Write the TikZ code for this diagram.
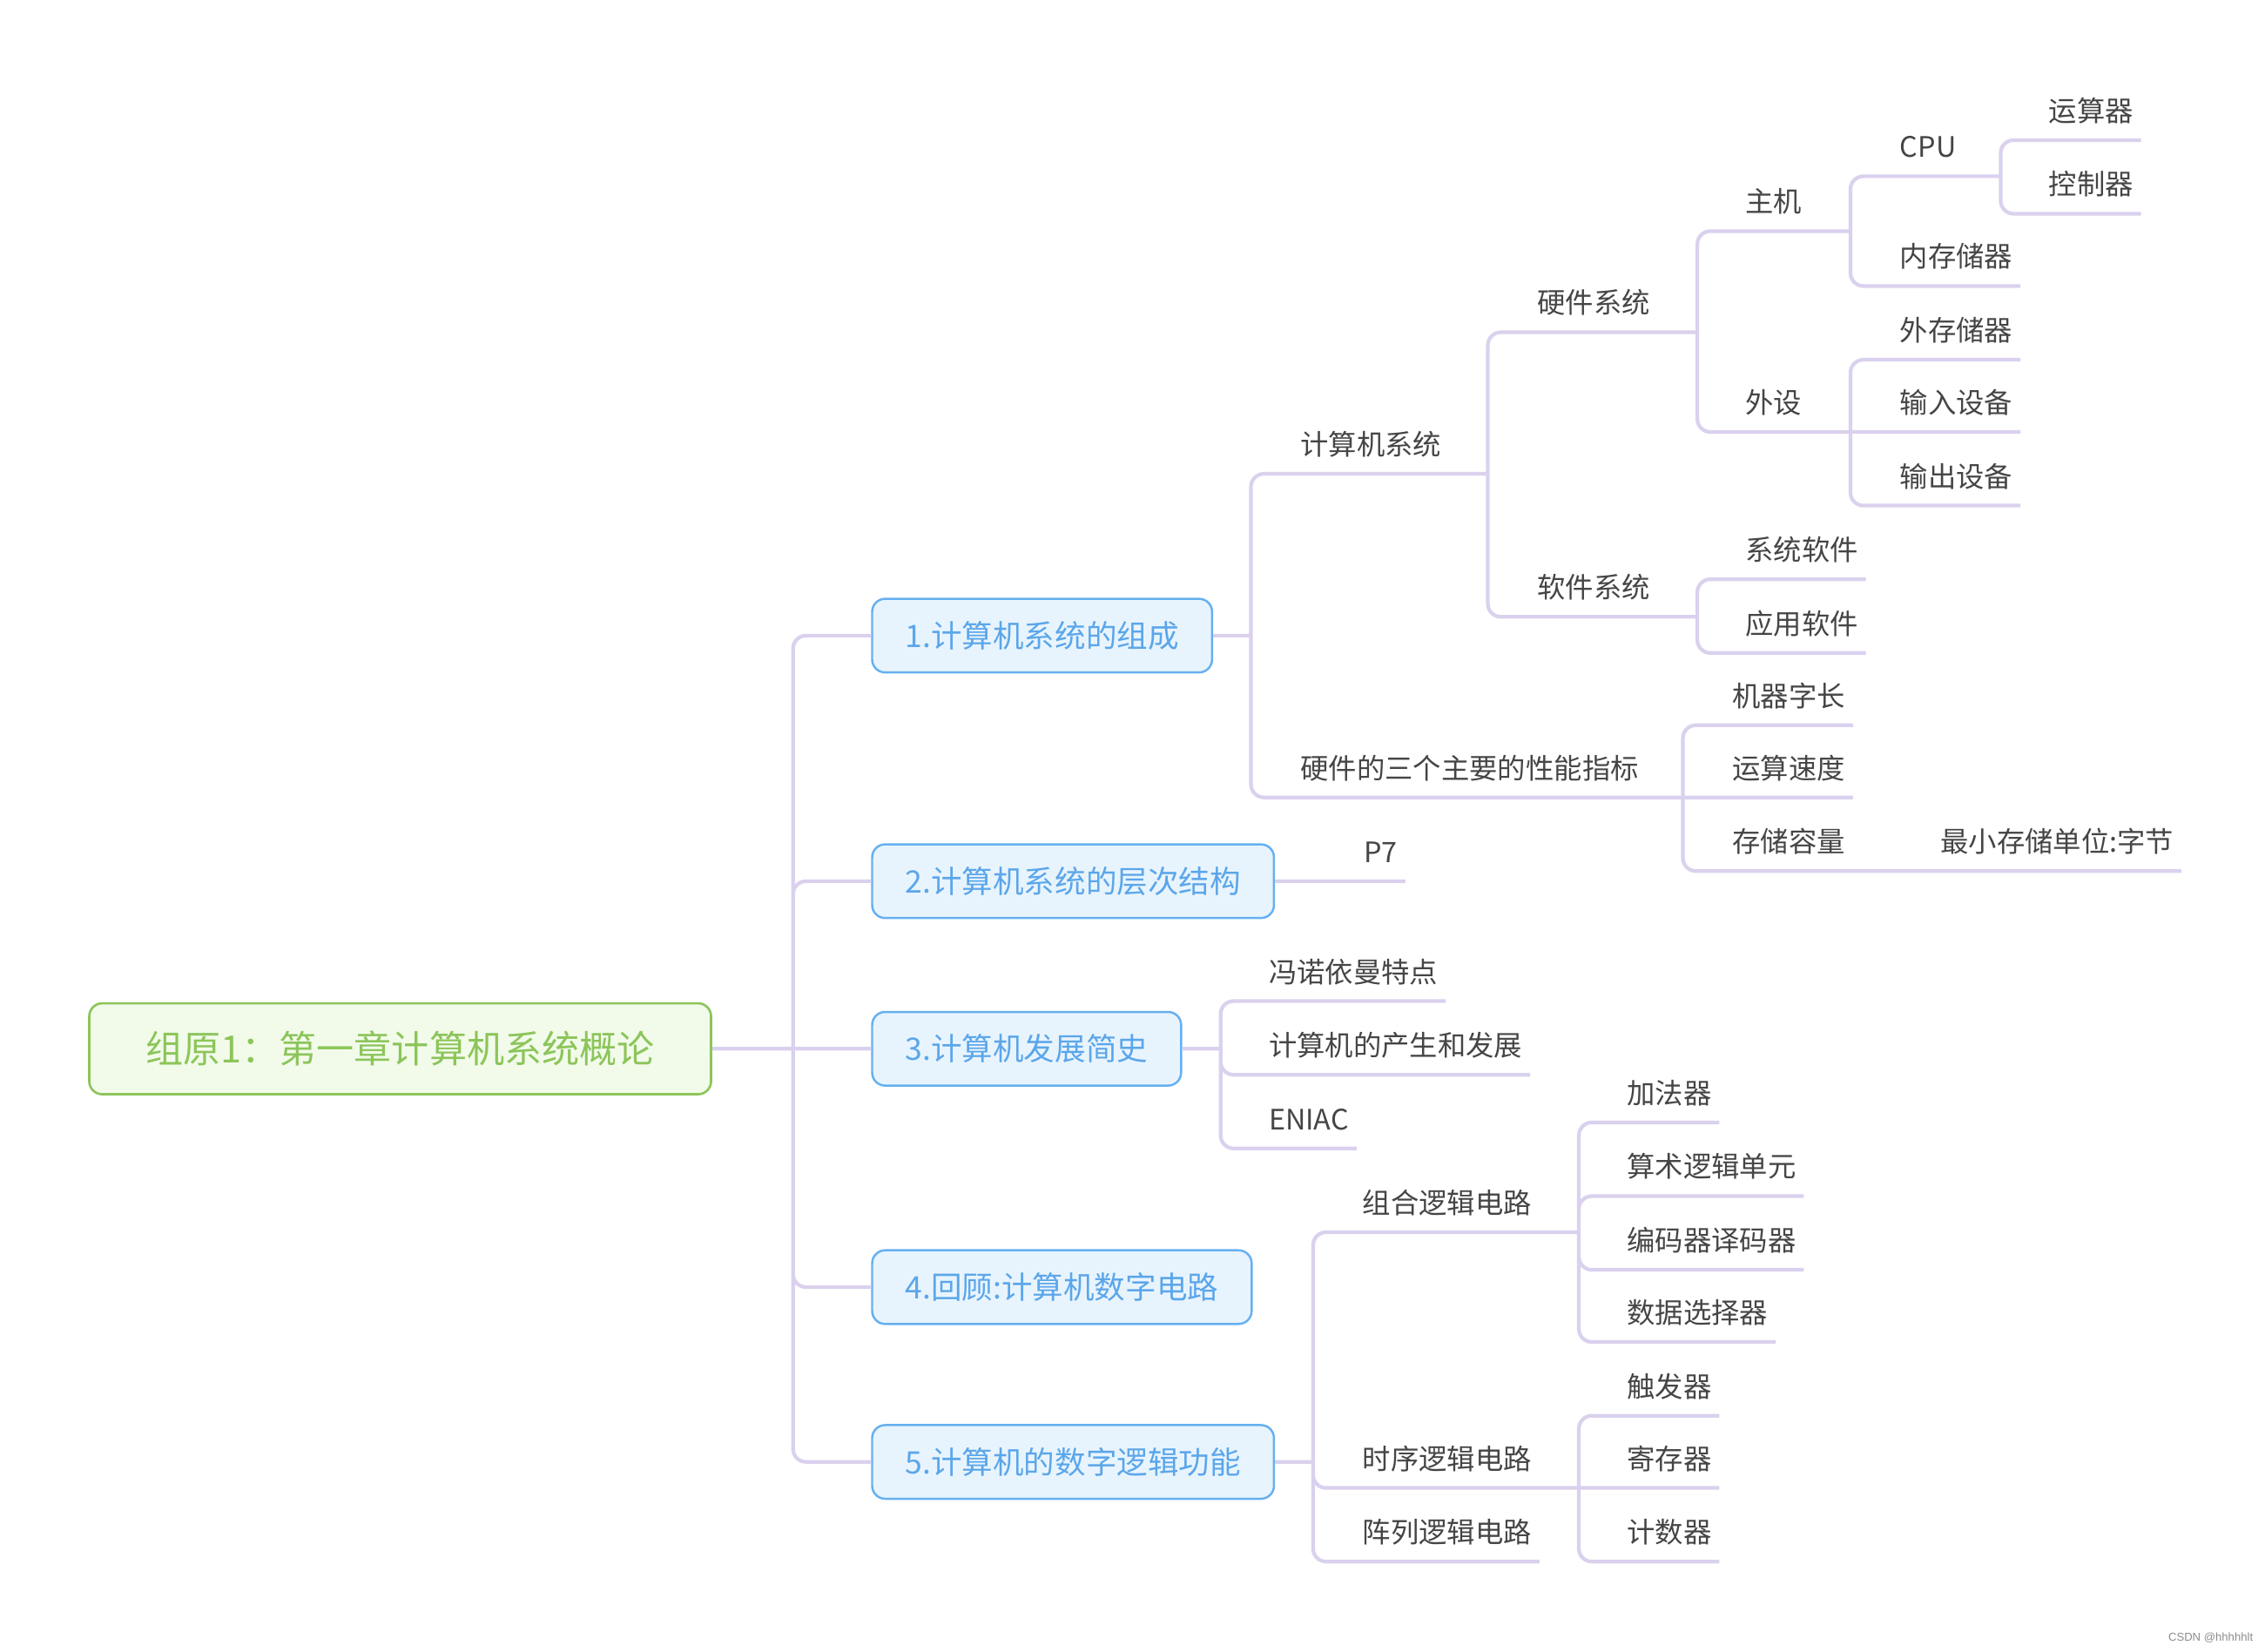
\documentclass[tikz,border=0pt]{standalone}
\usepackage{fontspec}
\setmainfont{Noto Sans CJK SC}
\newfontfamily\wmfont{Liberation Sans}
\definecolor{linkcol}{HTML}{DAD1EE}
\definecolor{txtcol}{HTML}{454545}
\definecolor{bluefill}{HTML}{E8F4FD}
\definecolor{blueline}{HTML}{66B0F0}
\definecolor{bluetext}{HTML}{5BA6EA}
\definecolor{greenfill}{HTML}{F2FBEA}
\definecolor{greenline}{HTML}{8CC55A}
\definecolor{greentext}{HTML}{8CC55A}

\begin{document}
\begin{tikzpicture}[x=0.02cm, y=-0.02cm]
\tikzstyle{link}=[draw=linkcol, line width=1.45pt, rounded corners=0.18cm]
\tikzstyle{topic}=[anchor=south west, text=txtcol, font=\fontsize{11.1pt}{13pt}\selectfont, inner xsep=0.1cm, inner ysep=0pt, text height=10pt, text depth=7.2pt]
\tikzstyle{chapter}=[anchor=west, draw=blueline, fill=bluefill, text=bluetext, line width=0.85pt, rounded corners=0.18cm, font=\fontsize{12.2pt}{14pt}\selectfont, inner xsep=0.46cm, inner ysep=0pt, minimum height=1.02cm, text height=10.7pt, text depth=1.5pt]
\tikzstyle{rootbox}=[anchor=west, draw=greenline, fill=greenfill, text=greentext, line width=0.9pt, rounded corners=0.18cm, font=\fontsize{14.8pt}{17pt}\selectfont, inner xsep=0.78cm, inner ysep=0pt, minimum height=1.26cm, text height=13pt, text depth=1.8pt]
\useasboundingbox (0,0) rectangle (1568,1143);

% main topic and chapters
\node[rootbox] (root) at (61,726) {组原1：第一章计算机系统概论};
\node[chapter] (b1) at (603,440) {1.计算机系统的组成};
\node[chapter] (b2) at (603,610) {2.计算机系统的层次结构};
\node[chapter] (b3) at (603,726) {3.计算机发展简史};
\node[chapter] (b4) at (603,891) {4.回顾:计算机数字电路};
\node[chapter] (b5) at (603,1012) {5.计算机的数字逻辑功能};

% chapter 1
\node[topic] (cs) at (895,328) {计算机系统};
\node[topic] (perf) at (895,552) {硬件的三个主要的性能指标};
\node[topic] (hw) at (1059,230) {硬件系统};
\node[topic] (sw) at (1059,427) {软件系统};
\node[topic] (host) at (1203,160) {主机};
\node[topic] (peri) at (1203,299) {外设};
\node[topic] (cpu) at (1310,122) {CPU};
\node[topic] (mem) at (1310,198) {内存储器};
\node[topic] (alu) at (1413,97) {运算器};
\node[topic] (ctrl) at (1413,148) {控制器};
\node[topic] (ext) at (1310,249) {外存储器};
\node[topic] (inp) at (1310,299) {输入设备};
\node[topic] (outp) at (1310,350) {输出设备};
\node[topic] (syssw) at (1203,401) {系统软件};
\node[topic] (appsw) at (1203,452) {应用软件};
\node[topic] (wlen) at (1194,502) {机器字长};
\node[topic] (speed) at (1194,552) {运算速度};
\node[topic] (capa) at (1194,603) {存储容量};
\node[topic] (unit) at (1338,603) {最小存储单位:字节};

% chapter 2 and 3
\node[topic] (p7) at (939,610) {P7};
\node[topic] (vn) at (873,693) {冯诺依曼特点};
\node[topic] (hist) at (873,744) {计算机的产生和发展};
\node[topic] (eniac) at (873,795) {ENIAC};

% chapter 5
\node[topic] (comb) at (938,853) {组合逻辑电路};
\node[topic] (seq) at (938,1030) {时序逻辑电路};
\node[topic] (arr) at (938,1081) {阵列逻辑电路};
\node[topic] (add) at (1121,777) {加法器};
\node[topic] (alu2) at (1121,828) {算术逻辑单元};
\node[topic] (codec) at (1121,879) {编码器译码器};
\node[topic] (mux) at (1121,929) {数据选择器};
\node[topic] (ff) at (1121,980) {触发器};
\node[topic] (reg) at (1121,1030) {寄存器};
\node[topic] (cnt) at (1121,1081) {计数器};

\node[anchor=east, text=black!45, font=\wmfont\fontsize{4.5pt}{5pt}\selectfont, inner sep=0pt] (wm) at (1560,1134) {CSDN @hhhhhlt};

% junctions
\coordinate (rj) at (549,726);
\coordinate (b1j) at (866,440);
\coordinate (b3j) at (845,726);
\coordinate (b5j) at (909,1012);
\coordinate (csj) at (1030,328);
\coordinate (hwj) at (1175,230);
\coordinate (swj) at (1175,427);
\coordinate (hostj) at (1281,160);
\coordinate (cpuj) at (1385,122);
\coordinate (perij) at (1281,299);
\coordinate (perfj) at (1165,552);
\coordinate (capaj) at (1310,603);
\coordinate (combj) at (1093,853);
\coordinate (seqj) at (1093,1030);

\draw[link] (root.east) -- (rj)
(rj) |- (b1.west)
(rj) |- (b2.west)
(rj) -- (b3.west)
(rj) |- (b4.west)
(rj) |- (b5.west)
(b1.east) -- (b1j)
(b1j) |- (cs.south east) -- (csj)
(b1j) |- (perf.south east) -- (perfj)
(csj) |- (hw.south east) -- (hwj)
(csj) |- (sw.south east) -- (swj)
(hwj) |- (host.south east) -- (hostj)
(hwj) |- (peri.south east) -- (perij)
(hostj) |- (cpu.south east) -- (cpuj)
(hostj) |- (mem.south east)
(cpuj) |- (alu.south east)
(cpuj) |- (ctrl.south east)
(perij) |- (ext.south east)
(perij) -- (inp.south east)
(perij) |- (outp.south east)
(swj) |- (syssw.south east)
(swj) |- (appsw.south east)
(perfj) |- (wlen.south east)
(perfj) -- (speed.south east)
(perfj) |- (capa.south east) -- (capaj)
(capaj) -- (unit.south east)
(b2.east) -- (p7.south east)
(b3.east) -- (b3j)
(b3j) |- (vn.south east)
(b3j) |- (hist.south east)
(b3j) |- (eniac.south east)
(b5.east) -- (b5j)
(b5j) |- (comb.south east) -- (combj)
(b5j) |- (seq.south east) -- (seqj)
(b5j) |- (arr.south east)
(combj) |- (add.south east)
(combj) |- (alu2.south east)
(combj) |- (codec.south east)
(combj) |- (mux.south east)
(seqj) |- (ff.south east)
(seqj) -- (reg.south east)
(seqj) |- (cnt.south east);
\end{tikzpicture}
\end{document}
